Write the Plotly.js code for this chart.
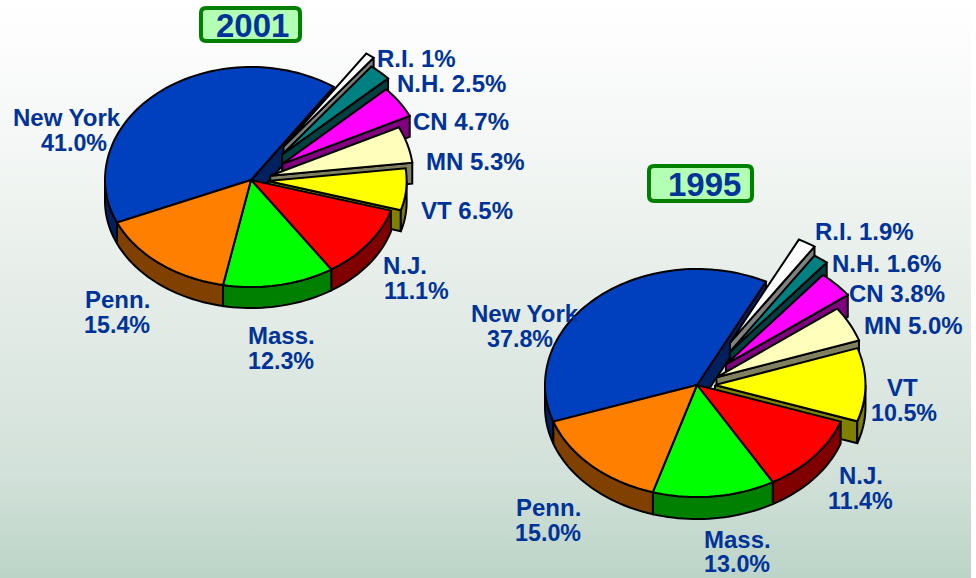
<!DOCTYPE html>
<html>
<head>
<meta charset="utf-8">
<script src="https://cdn.plot.ly/plotly-3.0.1.min.js"></script>
<style>
html,body{margin:0;padding:0;width:976px;height:578px;overflow:hidden;background:#ffffff;}
#bg{position:absolute;left:0;top:0;width:971px;height:578px;background:linear-gradient(to bottom,#ffffff 0%,#f4f7f5 25%,#e3ebe6 55%,#d2e1d9 82%,#bcd4c8 100%);}
#chart{position:absolute;left:0;top:0;width:976px;height:578px;}
</style>
</head>
<body>
<div id="bg"></div>
<div id="chart"></div>
<script>
// Data
var states = ["New York","R.I.","N.H.","CN","MN","VT","N.J.","Mass.","Penn."];
var values2001 = [41.0,1.0,2.5,4.7,5.3,6.5,11.1,12.3,15.4];
var values1995 = [37.8,1.9,1.6,3.8,5.0,10.5,11.4,13.0,15.0];
var labels2001 = ["41.0%","1%","2.5%","4.7%","5.3%","6.5%","11.1%","12.3%","15.4%"];
var labels1995 = ["37.8%","1.9%","1.6%","3.8%","5.0%","10.5%","11.4%","13.0%","15.0%"];

// Styles
var topColors  = ["#0040BF","#FFFFFF","#008080","#FF00FF","#FFFFBB","#FFFF00","#FF0000","#00FF00","#FF8000"];
var sideColors = ["#002060","#808080","#004040","#800080","#808060","#808000","#800000","#008000","#804000"];
var textColor = "#003399";
var FONT = "Liberation Sans, Arial, sans-serif";

var pies = [
  {year:"2001", values:values2001, labels:labels2001, cx:251, cy:180, rx:146, ryTop:113, ryBottom:107, depth:21, start:156.6,
   explode:[0,55,46,38,20,17,0,0,0],
   scale:[1,1,0.99,0.97,0.98,0.95,1,1,1],
   box:[201,8,300,41], title:[252,25.5],
   lab:[[[67,117],[74,143]],[[416.5,58]],[[451.5,83]],[[460.5,121]],[[475.5,161]],[[466.5,210]],[[405,265],[416,291]],[[281,335],[281,361]],[[117,299],[117,325]]]},
  {year:"1995", values:values1995, labels:labels1995, cx:697, cy:385, rx:152, ryTop:116, ryBottom:112, depth:22, start:160.9,
   explode:[0,65,55,40,22,18,0,0,0],
   scale:[1,1,1,1,0.99,0.99,1,1,1],
   box:[649,166,752,201], title:[704,184.5],
   lab:[[[525,313],[520,339]],[[864.5,231]],[[886,263]],[[896.5,293]],[[913,325]],[[902,387],[904,413]],[[861,475],[860,501]],[[737,539],[737,564]],[[548,507],[548,533]]]}
];

var RAD = Math.PI/180;
var traces = [];
var annotations = [];
var shapes = [];

function poly(xs, ys, fill){
  traces.push({type:"scatter",mode:"lines",x:xs,y:ys,fill:"toself",fillcolor:fill,
    line:{color:"#000000",width:2,simplify:false},hoverinfo:"skip",showlegend:false});
}
function ptX(p,s,ox,t){ return ox+p.rx*s*Math.cos(t*RAD); }
function ptY(p,s,oy,t){ var q=Math.sin(t*RAD); return oy+s*(q>0?p.ryBottom:p.ryTop)*q; }
function arcPts(p, s, ox, oy, a, b, dz){
  var n = Math.max(2, Math.ceil(Math.abs(b-a)/2)), xs=[], ys=[];
  for (var i=0;i<=n;i++){
    var t=a+(b-a)*i/n;
    xs.push(ptX(p,s,ox,t));
    ys.push(ptY(p,s,oy,t)+dz);
  }
  return [xs,ys];
}

pies.forEach(function(p){
  var total = p.values.reduce(function(s,v){return s+v;},0);
  var a = p.start;
  var n = p.values.length;
  p.values.forEach(function(v,i){
    var span = v/total*360, b = a+span, mid=(a+b)/2;
    var s = p.scale[i];
    var ox = p.cx + p.explode[i]*Math.cos(mid*RAD);
    var oy = p.cy + p.explode[i]*Math.sin(mid*RAD)*(p.ryTop+p.ryBottom)/2/p.rx;
    function wall(ang){
      var ex=ptX(p,s,ox,ang), ey=ptY(p,s,oy,ang);
      poly([ox,ex,ex,ox,ox],[oy,ey,ey+p.depth,oy+p.depth,oy],sideColors[i]);
    }
    // radial walls show only where a slice is pulled away from its neighbour
    if (Math.cos(a*RAD)<0 && p.explode[i]>0) wall(a);
    if (Math.cos(b*RAD)>0 && (p.explode[i]>0 || p.explode[(i+1)%n]>0)) wall(b);
    // outer wall on the front half of the ellipse
    [0,360].forEach(function(shift){
      var lo=Math.max(a,shift), hi=Math.min(b,shift+180);
      if (hi>lo){
        var t=arcPts(p,s,ox,oy,lo,hi,0), u=arcPts(p,s,ox,oy,hi,lo,p.depth);
        poly(t[0].concat(u[0],[t[0][0]]),t[1].concat(u[1],[t[1][0]]),sideColors[i]);
      }
    });
    var f=arcPts(p,s,ox,oy,a,b,0);
    poly([ox].concat(f[0],[ox]),[oy].concat(f[1],[oy]),topColors[i]);
    a=b;
  });

  p.labels.forEach(function(l,i){
    var pos=p.lab[i];
    var lines = pos.length===2 ? [states[i],l] : [states[i]+" "+l];
    lines.forEach(function(txt,k){
      annotations.push({x:pos[k][0],y:pos[k][1],xref:"x",yref:"y",text:txt,showarrow:false,
        xanchor:"center",yanchor:"middle",
        font:{family:FONT,size:(pos.length===2&&k===1)?23.3:24,color:textColor,weight:700}});
    });
  });

  var x0=p.box[0],y0=p.box[1],x1=p.box[2],y1=p.box[3],r=5;
  shapes.push({type:"path",xref:"x",yref:"y",layer:"above",
    path:"M"+(x0+r)+","+y0+" L"+(x1-r)+","+y0+" Q"+x1+","+y0+" "+x1+","+(y0+r)+" L"+x1+","+(y1-r)+" Q"+x1+","+y1+" "+(x1-r)+","+y1+" L"+(x0+r)+","+y1+" Q"+x0+","+y1+" "+x0+","+(y1-r)+" L"+x0+","+(y0+r)+" Q"+x0+","+y0+" "+(x0+r)+","+y0+" Z",
    fillcolor:"#B3FFB3",line:{color:"#008000",width:4}});
  annotations.push({x:p.title[0],y:p.title[1],xref:"x",yref:"y",text:p.year,showarrow:false,
    xanchor:"center",yanchor:"middle",font:{family:FONT,size:33,color:textColor,weight:700}});
});

var layout = {
  width:976,height:578,margin:{l:0,r:0,t:0,b:0},
  paper_bgcolor:"rgba(0,0,0,0)",plot_bgcolor:"rgba(0,0,0,0)",
  showlegend:false,hovermode:false,
  xaxis:{range:[0,976],visible:false,fixedrange:true},
  yaxis:{range:[578,0],visible:false,fixedrange:true},
  annotations:annotations,shapes:shapes
};
Plotly.newPlot("chart",traces,layout,{displayModeBar:false,staticPlot:true});
</script>
</body>
</html>
